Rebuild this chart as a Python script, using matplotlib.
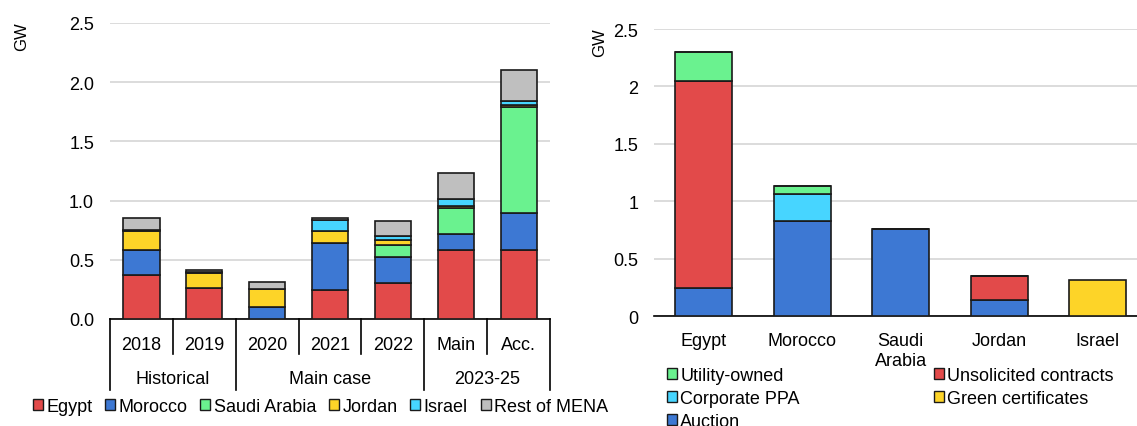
import matplotlib
matplotlib.use("Agg")
import matplotlib.pyplot as plt
from matplotlib.patches import Patch
import numpy as np

plt.rcParams['font.family'] = ['Liberation Sans', 'DejaVu Sans']
plt.rcParams['font.size'] = 13

# ---- Left chart data ----
periods = ["2018", "2019", "2020", "2021", "2022", "Main", "Acc."]
groups = ["Historical", "Main case", "2023-25"]
group_sizes = [2, 3, 2]
countries = ["Egypt", "Morocco", "Saudi Arabia", "Jordan", "Israel", "Rest of MENA"]
egypt   = [0.375, 0.26, 0.00, 0.245, 0.30, 0.58, 0.58]
morocco = [0.205, 0.00, 0.10, 0.40, 0.225, 0.135, 0.315]
saudi   = [0.00, 0.00, 0.00, 0.00, 0.10, 0.22, 0.893]
jordan  = [0.16, 0.13, 0.15, 0.10, 0.045, 0.02, 0.02]
israel  = [0.01, 0.005, 0.00, 0.095, 0.03, 0.06, 0.03]
rest    = [0.10, 0.015, 0.06, 0.012, 0.13, 0.22, 0.265]
country_colors = ["#E24A4A", "#3D78D3", "#6AF28F", "#FDD428", "#47D5FF", "#BFBFBF"]

# ---- Right chart data ----
markets = ["Egypt", "Morocco", "Saudi\nArabia", "Jordan", "Israel"]
auction     = [0.25, 0.83, 0.757, 0.145, 0.0]
unsolicited = [1.80, 0.0, 0.0, 0.21, 0.0]
corporate   = [0.0, 0.235, 0.0, 0.0, 0.0]
utility     = [0.25, 0.07, 0.0, 0.0, 0.0]
green_cert  = [0.0, 0.0, 0.0, 0.0, 0.316]
mech_colors = {"Auction": "#3D78D3", "Unsolicited contracts": "#E24A4A",
               "Corporate PPA": "#47D5FF", "Utility-owned": "#6AF28F",
               "Green certificates": "#FDD428"}

W, H = 1137, 427
fig = plt.figure(figsize=(W / 100, H / 100), dpi=100)

grid_c = "#D9D9D9"
edge_c = "#1a1a1a"

# ================= Left =================
ax1 = fig.add_axes([110 / W, 1 - 320 / H, 440 / W, 296 / H])
x = np.arange(len(periods))
bottom = np.zeros(len(periods))
series = [egypt, morocco, saudi, jordan, israel, rest]
for vals, c, name in zip(series, country_colors, countries):
    vals = np.array(vals)
    ax1.bar(x, vals, width=0.575, bottom=bottom, color=c, edgecolor=edge_c,
            linewidth=1.2, zorder=3, label=name)
    bottom += vals
ax1.set_xlim(-0.5, len(periods) - 0.5)
ax1.set_ylim(0, 2.5)
ax1.set_yticks(np.arange(0, 2.51, 0.5))
ax1.set_yticklabels([f"{v:.1f}" for v in np.arange(0, 2.51, 0.5)])
ax1.yaxis.grid(True, color=grid_c, linewidth=1.3, zorder=0)
ax1.set_axisbelow(True)
for s in ["top", "right", "left"]:
    ax1.spines[s].set_visible(False)
ax1.spines["bottom"].set_color("black")
ax1.spines["bottom"].set_linewidth(1.2)
ax1.tick_params(axis="y", length=0, pad=11.5, labelsize=13)
ax1.set_xticks([])

trans = ax1.get_xaxis_transform()
px = 1.0 / 296  # one pixel in axes-y units
bounds_grp = np.cumsum([0] + group_sizes) - 0.5
for b in np.arange(-0.5, len(periods), 1.0):
    is_grp = any(abs(b - g) < 1e-6 for g in bounds_grp)
    y_end = -(71 if is_grp else 35) * px
    ax1.plot([b, b], [0, y_end], color="black", lw=1.2, transform=trans,
             clip_on=False, zorder=4)
for i, p in enumerate(periods):
    ax1.text(i, -25 * px, p, transform=trans, ha="center", va="center",
             fontsize=13)
for gi, g in enumerate(groups):
    center = (bounds_grp[gi] + bounds_grp[gi + 1]) / 2
    ax1.text(center, -60 * px, g, transform=trans, ha="center", va="center",
             fontsize=13)

fig.text(21.5 / W, 1 - 37 / H, "GW", rotation=90, ha="center", va="center",
         fontsize=12)

handles1 = [Patch(facecolor=c, edgecolor=edge_c, linewidth=1.0, label=n)
            for c, n in zip(country_colors, countries)]
fig.legend(handles=handles1, loc="center left",
           bbox_to_anchor=(33 / W, 1 - 407.5 / H), ncol=6, frameon=False,
           handlelength=0.55, handleheight=0.55, handletextpad=0.18,
           columnspacing=0.72, fontsize=13, borderpad=0, borderaxespad=0)

# ================= Right =================
ax2 = fig.add_axes([654 / W, 1 - 317.3 / H, (W - 654) / W, 287.3 / H])
x2 = np.arange(len(markets))
bot2 = np.zeros(len(markets))
stack_order = [("Auction", auction), ("Unsolicited contracts", unsolicited),
               ("Corporate PPA", corporate), ("Utility-owned", utility),
               ("Green certificates", green_cert)]
for name, vals in stack_order:
    vals = np.array(vals)
    ax2.bar(x2, vals, width=0.58, bottom=bot2, color=mech_colors[name],
            edgecolor=edge_c, linewidth=1.2, zorder=3, label=name)
    bot2 += vals
ax2.set_xlim(-0.505, 4.4)
ax2.set_ylim(0, 2.5)
ax2.set_yticks([0, 0.5, 1, 1.5, 2, 2.5])
ax2.set_yticklabels(["0", "0.5", "1", "1.5", "2", "2.5"])
ax2.yaxis.grid(True, color=grid_c, linewidth=1.3, zorder=0)
ax2.set_axisbelow(True)
for s in ["top", "right", "left"]:
    ax2.spines[s].set_visible(False)
ax2.spines["bottom"].set_color("black")
ax2.spines["bottom"].set_linewidth(1.2)
ax2.set_xticks(x2)
ax2.set_xticklabels(markets, linespacing=1.28)
ax2.tick_params(axis="x", length=0, pad=11, labelsize=13)
ax2.tick_params(axis="y", length=0, pad=11.3, labelsize=13)

fig.text(600 / W, 1 - 43 / H, "GW", rotation=90, ha="center", va="center",
         fontsize=12)

legend_order = ["Utility-owned", "Corporate PPA", "Auction",
                "Unsolicited contracts", "Green certificates"]
handles2 = [Patch(facecolor=mech_colors[n], edgecolor=edge_c, linewidth=1.0,
                  label=n) for n in legend_order]
fig.legend(handles=handles2, loc="upper left",
           bbox_to_anchor=(667 / W, 1 - 368 / H), ncol=2, frameon=False,
           handlelength=0.55, handleheight=0.55, handletextpad=0.18,
           columnspacing=7.45, labelspacing=0.34, fontsize=13, borderpad=0,
           borderaxespad=0)

fig.savefig("out.png", dpi=100)
